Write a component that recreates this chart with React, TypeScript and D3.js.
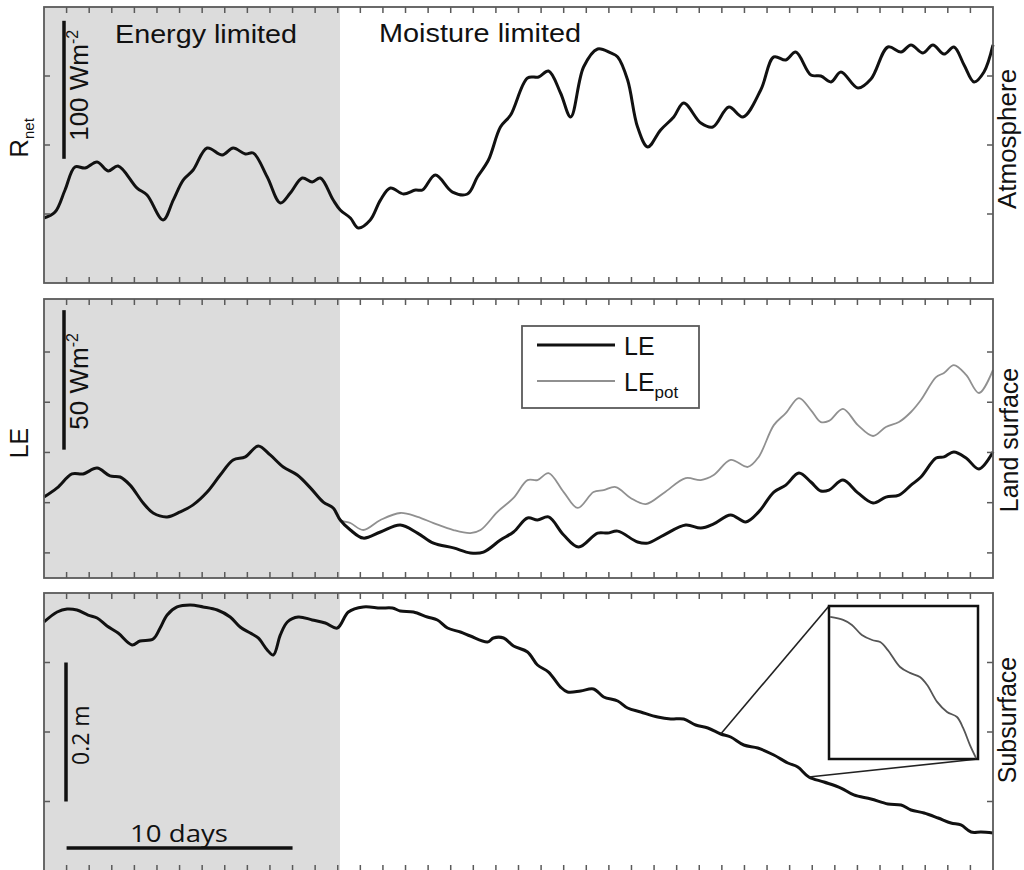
import React from "react";
import * as d3 from "d3";

// ---------- DATA ----------
const rnetDays = [0, 0.49, 0.93, 1.37, 1.82, 2.35, 2.84, 3.28, 4.12, 4.56, 5.27, 5.72, 6.16, 6.6, 7.22, 7.89, 8.37, 8.91, 9.26, 9.88, 10.46, 10.9, 11.43, 11.87, 12.23, 12.8, 13.11, 13.56, 13.91, 14.44, 14.89, 15.33, 15.91, 16.44, 16.75, 17.32, 18.08, 18.74, 19.18, 19.67, 20.2, 20.65, 21.4, 21.89, 22.33, 22.86, 23.31, 23.88, 24.5, 25.08, 25.39, 25.83, 26.27, 26.72, 27.29, 27.87, 28.31, 29.07, 29.6, 30.31, 30.93, 31.72, 32.3, 32.83, 33.27, 33.94, 34.38, 34.83, 35.27, 36.02, 36.6, 37.35, 37.93, 38.37, 38.9, 39.34, 39.83, 40.27, 40.72, 41.16, 41.6, 42.0];
const rnetValues = [47.1, 51.4, 67.4, 84.1, 83.3, 87.7, 81.2, 84.8, 68.8, 63.8, 45.7, 60.1, 74.6, 81.9, 97.8, 92.8, 97.8, 93.5, 94.2, 76.8, 58.0, 65.2, 76.1, 73.2, 76.1, 60.1, 52.9, 47.1, 39.9, 45.7, 60.1, 68.8, 64.5, 67.4, 67.4, 78.3, 65.9, 64.5, 76.8, 89.1, 113.0, 121.7, 148.6, 149.3, 153.6, 137.7, 120.3, 156.5, 169.6, 166.7, 163.8, 147.1, 113.0, 98.6, 110.9, 120.3, 130.4, 115.9, 113.0, 127.5, 120.3, 139.9, 163.8, 161.6, 167.4, 150.7, 150.0, 145.7, 152.9, 141.3, 147.8, 171.0, 167.4, 172.5, 166.7, 172.5, 165.9, 171.0, 158.0, 145.7, 152.9, 172.5];

const leDays = [0, 0.58, 1.24, 1.73, 2.35, 2.92, 3.37, 3.81, 4.39, 4.83, 5.45, 6.03, 6.6, 7.22, 7.8, 8.37, 8.91, 9.48, 10.01, 10.59, 11.21, 11.79, 12.36, 12.8, 13.11, 13.56, 14.13, 14.89, 15.77, 16.53, 17.24, 18.12, 18.87, 19.45, 20.2, 20.78, 21.4, 21.84, 22.33, 23.0, 23.66, 24.5, 24.94, 25.39, 26.27, 26.72, 27.43, 28.4, 29.07, 29.64, 30.39, 31.06, 31.63, 32.3, 32.83, 33.41, 33.94, 34.38, 34.74, 35.36, 36.02, 36.69, 37.26, 37.84, 38.37, 38.81, 39.48, 39.83, 40.27, 40.81, 41.38, 42.0];
const leValues = [29.0, 32.3, 37.3, 37.3, 39.4, 36.6, 36.2, 33.3, 26.9, 23.3, 21.9, 23.7, 26.2, 30.8, 36.9, 42.3, 43.4, 47.3, 44.1, 39.8, 36.9, 32.3, 27.2, 25.1, 20.8, 17.2, 14.3, 16.5, 19.0, 16.1, 12.5, 10.8, 9.0, 9.3, 13.6, 16.5, 21.5, 20.8, 21.9, 15.4, 11.1, 16.1, 16.1, 16.8, 12.9, 12.5, 15.4, 19.0, 17.9, 19.4, 22.6, 20.1, 23.7, 30.8, 33.3, 37.6, 34.4, 31.2, 31.5, 35.1, 30.5, 26.9, 29.0, 29.7, 33.3, 36.2, 43.0, 43.4, 45.2, 43.0, 39.1, 45.2];

const lePotDays = [12.8, 13.11, 13.56, 14.13, 14.89, 15.77, 16.53, 17.24, 18.12, 18.87, 19.32, 20.07, 20.78, 21.4, 21.84, 22.33, 23.0, 23.62, 24.32, 24.77, 25.3, 25.96, 26.63, 27.43, 28.4, 29.07, 29.64, 30.39, 31.15, 31.63, 32.3, 32.83, 33.41, 33.94, 34.38, 34.74, 35.36, 36.02, 36.69, 37.26, 37.84, 38.37, 38.81, 39.48, 39.83, 40.27, 40.81, 41.38, 42.0];
const lePotValues = [25.1, 20.8, 19.7, 17.2, 20.8, 23.3, 21.9, 19.7, 17.2, 16.1, 17.2, 23.7, 28.7, 35.1, 35.1, 37.6, 30.8, 25.1, 30.8, 31.5, 32.6, 28.7, 26.5, 30.5, 35.8, 35.1, 36.9, 42.3, 39.8, 43.4, 54.8, 59.1, 64.5, 60.2, 55.9, 56.3, 60.6, 54.8, 50.9, 54.1, 55.9, 59.5, 63.8, 72.0, 73.5, 76.3, 72.8, 66.3, 74.6];

const wtdDays = [0, 0.58, 1.02, 1.46, 1.95, 2.35, 2.79, 3.28, 3.9, 4.25, 4.83, 5.14, 5.45, 5.89, 6.47, 7.04, 7.67, 8.24, 8.68, 9.13, 9.48, 9.88, 10.15, 10.46, 10.77, 11.25, 11.87, 12.45, 12.98, 13.47, 14.13, 14.89, 15.42, 15.77, 16.35, 16.97, 17.41, 17.86, 18.43, 18.87, 19.63, 19.89, 20.34, 20.78, 21.4, 21.84, 22.33, 22.86, 23.17, 23.75, 24.32, 24.77, 25.39, 25.83, 26.41, 27.16, 27.74, 28.31, 28.84, 29.38, 29.95, 30.39, 30.97, 31.59, 32.3, 32.92, 33.36, 33.85, 34.52, 35.27, 35.84, 36.6, 37.35, 37.93, 38.37, 38.95, 39.57, 40.14, 40.58, 41.03, 41.47, 42.0];
const wtdValues = [0.0417, 0.0273, 0.023, 0.0245, 0.0317, 0.036, 0.0475, 0.0576, 0.0748, 0.0691, 0.0662, 0.0504, 0.0317, 0.0201, 0.0173, 0.0201, 0.0245, 0.0345, 0.0489, 0.0576, 0.0647, 0.082, 0.0892, 0.0604, 0.0417, 0.0345, 0.0388, 0.0432, 0.0504, 0.0273, 0.0201, 0.0216, 0.0216, 0.0259, 0.0273, 0.0345, 0.0388, 0.0504, 0.0561, 0.0619, 0.0705, 0.0647, 0.0647, 0.0763, 0.0849, 0.1036, 0.1137, 0.1353, 0.1424, 0.141, 0.1381, 0.1496, 0.1554, 0.1655, 0.1712, 0.1784, 0.1813, 0.1813, 0.1899, 0.1942, 0.2029, 0.2072, 0.2187, 0.223, 0.2331, 0.2446, 0.2504, 0.2647, 0.2719, 0.2806, 0.2906, 0.2964, 0.3036, 0.305, 0.3122, 0.3165, 0.3237, 0.3309, 0.3338, 0.3439, 0.3439, 0.3453];

// zoomed inset (detail of WTD between the two marked days)
const insetDays = [29.98, 30.32, 30.55, 30.81, 31.08, 31.29, 31.49, 31.81, 32.07, 32.33, 32.52, 32.78, 33.04, 33.3, 33.46, 33.64, 33.8];
const insetValues = [0.2028, 0.2041, 0.2063, 0.2107, 0.2129, 0.2138, 0.2173, 0.2247, 0.2273, 0.2291, 0.2326, 0.24, 0.2444, 0.2466, 0.2514, 0.2589, 0.2646];
const insetRange = [29.95, 33.85];
const insetYDomain = [0.198, 0.265];

const totalDays = 42;
const shadeEndDay = 13.1;
const xTickDays = d3.range(1, 42);
const rnetTicks = [50, 100, 150];
const leTicks = [9, 27, 45, 63, 81];
const wtdTicks = [0.1, 0.2, 0.3];
const rnetBar = [90, 190];
const leBar = [46, 96];
const wtdBar = [0.1, 0.3];
const dayBar = [1, 11];

const FONT = "'Liberation Sans', Arial, Helvetica, sans-serif";
const FONT2 = "'Open Sans', 'Liberation Sans', sans-serif";
const FRAME = "#5a5a5a";

export default function App() {
  const L = 44, R = 993;
  const P1 = { top: 7, bottom: 283 };
  const P2 = { top: 299, bottom: 578 };
  const P3 = { top: 593, bottom: 871 };

  const x = d3.scaleLinear().domain([0, totalDays]).range([L, R]);
  const yR = d3.scaleLinear().domain([0, 200]).range([P1.bottom, P1.top]);
  const yLE = d3.scaleLinear().domain([0, 100]).range([P2.bottom, P2.top]);
  const yW = d3.scaleLinear().domain([0, 0.4]).range([P3.top, P3.bottom]);

  const inset = { x0: 829, x1: 978, y0: 606, y1: 759 };
  const xi = d3.scaleLinear().domain(insetRange).range([inset.x0, inset.x1]);
  const yi = d3.scaleLinear().domain(insetYDomain).range([inset.y0, inset.y1]);

  const mk = (days: number[], vals: number[], xs: any, ys: any) =>
    d3.line<number>()
      .x((_, i) => xs(days[i]))
      .y((v) => ys(v))
      .curve(d3.curveCatmullRom.alpha(0.5))(vals) || "";

  const wtdAt = (d: number) => {
    const i = wtdDays.findIndex((v) => Math.abs(v - d) < 0.001);
    return wtdValues[i];
  };

  const panelDeco = (P: { top: number; bottom: number }, yTicks: number[], ys: any, key: string) => (
    <g key={key}>
      {xTickDays.map((d) => (
        <g key={d}>
          <line x1={x(d)} x2={x(d)} y1={P.top} y2={P.top + 6} stroke={FRAME} strokeWidth={1.5} />
          <line x1={x(d)} x2={x(d)} y1={P.bottom} y2={P.bottom - 6} stroke={FRAME} strokeWidth={1.5} />
        </g>
      ))}
      {yTicks.map((t) => (
        <g key={t}>
          <line x1={L} x2={L + 6} y1={ys(t)} y2={ys(t)} stroke={FRAME} strokeWidth={1.5} />
          <line x1={R} x2={R - 6} y1={ys(t)} y2={ys(t)} stroke={FRAME} strokeWidth={1.5} />
        </g>
      ))}
      <rect x={L} y={P.top} width={R - L} height={P.bottom - P.top} fill="none" stroke={FRAME} strokeWidth={1.8} />
    </g>
  );

  const shade = (P: { top: number; bottom: number }, key: string) => (
    <rect key={key} x={L} y={P.top} width={x(shadeEndDay) - L} height={P.bottom - P.top} fill="#dcdcdc" />
  );

  const pA = { x: x(insetRange[0]), y: yW(wtdAt(insetRange[0])) };
  const pB = { x: x(insetRange[1]), y: yW(wtdAt(insetRange[1])) };

  return (
    <div style={{ position: "absolute", left: 0, top: 0 }}>
      <svg width={1024} height={870} style={{ display: "block", background: "#fff" }}>
        {shade(P1, "s1")}
        {shade(P2, "s2")}
        {shade(P3, "s3")}

        {/* Panel 1 */}
        <path d={mk(rnetDays, rnetValues, x, yR)} fill="none" stroke="#111" strokeWidth={3} strokeLinejoin="round" />
        {panelDeco(P1, rnetTicks, yR, "d1")}
        <line x1={64} x2={64} y1={yR(rnetBar[1])} y2={yR(rnetBar[0])} stroke="#111" strokeWidth={3.5} />
        <text transform={`translate(88,${yR(rnetBar[0]) - 18}) rotate(-90)`} fontFamily={FONT} fontSize={26} fill="#111">
          100 Wm<tspan dy={-10} fontSize={16}>-2</tspan>
        </text>
        <text x={115} y={43} fontFamily={FONT} fontSize={25} fill="#111" textLength={182} lengthAdjust="spacingAndGlyphs">Energy limited</text>
        <text x={379} y={42} fontFamily={FONT} fontSize={25} fill="#111" textLength={202} lengthAdjust="spacingAndGlyphs">Moisture limited</text>
        <text transform={`translate(28,138) rotate(-90)`} textAnchor="middle" fontFamily={FONT} fontSize={26} fill="#111">
          R<tspan dy={6} fontSize={15}>net</tspan>
        </text>
        <text transform={`translate(1016,139) rotate(-90)`} textAnchor="middle" fontFamily={FONT} fontSize={26} fill="#111">Atmosphere</text>

        {/* Panel 2 */}
        <path d={mk(lePotDays, lePotValues, x, yLE)} fill="none" stroke="#909090" strokeWidth={1.8} strokeLinejoin="round" />
        <path d={mk(leDays, leValues, x, yLE)} fill="none" stroke="#111" strokeWidth={3} strokeLinejoin="round" />
        {panelDeco(P2, leTicks, yLE, "d2")}
        <line x1={64} x2={64} y1={yLE(leBar[1])} y2={yLE(leBar[0])} stroke="#111" strokeWidth={3.5} />
        <text transform={`translate(88,${yLE(leBar[0]) - 20}) rotate(-90)`} fontFamily={FONT} fontSize={26} fill="#111">
          50 Wm<tspan dy={-10} fontSize={16}>-2</tspan>
        </text>
        <text transform={`translate(28,443) rotate(-90)`} textAnchor="middle" fontFamily={FONT} fontSize={25} fill="#111">LE</text>
        <text transform={`translate(1018,440) rotate(-90)`} textAnchor="middle" fontFamily={FONT} fontSize={25} fill="#111">Land surface</text>
        {/* legend */}
        <rect x={522} y={326} width={177} height={82} fill="#fff" stroke={FRAME} strokeWidth={1.8} />
        <line x1={537} x2={615} y1={345} y2={345} stroke="#111" strokeWidth={3} />
        <line x1={537} x2={615} y1={381} y2={381} stroke="#909090" strokeWidth={1.8} />
        <text x={624} y={355} fontFamily={FONT} fontSize={25} fill="#111">LE</text>
        <text x={624} y={391} fontFamily={FONT} fontSize={25} fill="#111">
          LE<tspan dy={7} fontSize={17}>pot</tspan>
        </text>

        {/* Panel 3 */}
        <path d={mk(wtdDays, wtdValues, x, yW)} fill="none" stroke="#111" strokeWidth={3} strokeLinejoin="round" />
        {panelDeco(P3, wtdTicks, yW, "d3")}
        <line x1={66} x2={66} y1={yW(wtdBar[0])} y2={yW(wtdBar[1])} stroke="#111" strokeWidth={3.5} />
        <text transform={`translate(89,765) rotate(-90)`} fontFamily={FONT2} fontSize={23} fill="#111">0.2 m</text>
        <line x1={x(dayBar[0])} x2={x(dayBar[1])} y1={848} y2={848} stroke="#111" strokeWidth={3.5} />
        <text x={130} y={842} fontFamily={FONT2} fontSize={23} fill="#111" textLength={98} lengthAdjust="spacingAndGlyphs">10 days</text>
        <text transform={`translate(1016,720) rotate(-90)`} textAnchor="middle" fontFamily={FONT} fontSize={25} fill="#111">Subsurface</text>
        {/* inset */}
        <line x1={pA.x} y1={pA.y} x2={inset.x0} y2={inset.y0} stroke="#222" strokeWidth={1.6} />
        <line x1={pB.x} y1={pB.y} x2={inset.x1} y2={inset.y1} stroke="#222" strokeWidth={1.6} />
        <rect x={inset.x0} y={inset.y0} width={inset.x1 - inset.x0} height={inset.y1 - inset.y0} fill="#fff" stroke="#111" strokeWidth={2.5} />
        <path d={mk(insetDays, insetValues, xi, yi)} fill="none" stroke="#555" strokeWidth={1.8} />
      </svg>
    </div>
  );
}
